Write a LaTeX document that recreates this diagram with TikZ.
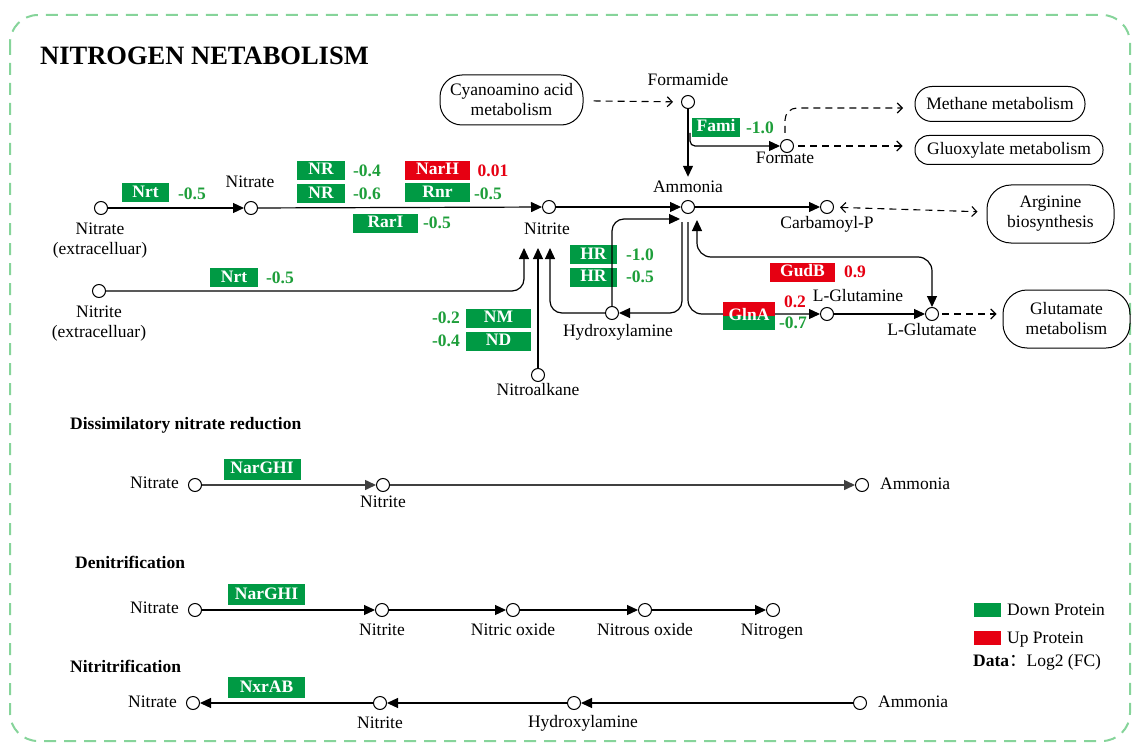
\documentclass[tikz,border=0pt]{standalone}
\usepackage{fontspec}
\setmainfont{Liberation Serif}
\newfontfamily\cjkfont{Noto Sans CJK SC}
\usetikzlibrary{arrows.meta}
\definecolor{dgreen}{HTML}{009A44}
\definecolor{dred}{HTML}{E60012}
\definecolor{tgreen}{HTML}{1E9E3A}
\definecolor{bgreen}{HTML}{86D49A}
\begin{document}
\begin{tikzpicture}[x=1pt,y=-1pt,
  every node/.style={font=\fontsize{17.5}{20}\selectfont, inner sep=0pt},
  met/.style={circle, draw, fill=white, minimum size=13pt, line width=1pt},
  lab/.style={text height=12pt, text depth=4pt},
  mlab/.style={align=center},
  sect/.style={anchor=west, text height=12pt, text depth=4pt, font=\fontsize{17.5}{20}\bfseries\selectfont},
  gbox/.style={fill=dgreen, text=white, font=\fontsize{17.5}{20}\bfseries\selectfont, minimum height=19pt, minimum width=48pt, text height=12pt, text depth=3pt},
  rbox/.style={gbox, fill=dred},
  gval/.style={text=tgreen, font=\fontsize{17.5}{20}\bfseries\selectfont, text height=12pt, text depth=3pt},
  rval/.style={gval, text=dred},
  mapbox/.style={draw, line width=1pt, align=center},
  arr/.style={line width=1.2pt, -{Triangle[length=11pt,width=10pt]}},
  arrb/.style={line width=1.2pt, {Triangle[length=11pt,width=10pt]}-{Triangle[length=11pt,width=10pt]}},
  darr/.style={line width=1.1pt, dash pattern=on 7pt off 5pt, -{Straight Barb[length=5pt,width=10pt]}},
  darrb/.style={line width=1.1pt, dash pattern=on 7pt off 5pt, {Straight Barb[length=5pt,width=10pt]}-{Straight Barb[length=5pt,width=10pt]}}
]
\useasboundingbox (0,0) rectangle (1137,746);
\draw[bgreen, line width=2pt, dash pattern=on 12pt off 8pt, rounded corners=28pt] (10,15) rectangle (1130,741);

\node[anchor=west, font=\fontsize{26.5}{30}\bfseries\selectfont] (title) at (40,55.5) {NITROGEN NETABOLISM};

% ---------- main map: metabolites ----------
\node[met] (natext) at (101,208) {};
\node[met] (nat) at (251,208) {};
\node[met] (nit) at (549,207) {};
\node[met] (amm) at (688,207) {};
\node[met] (carbp) at (827,207) {};
\node[met] (formamide) at (688,102) {};
\node[met] (formate) at (787,146) {};
\node[met] (nitext) at (99,291) {};
\node[met] (nitroalk) at (538,375) {};
\node[met] (hyd) at (612,313) {};
\node[met] (gln) at (827,314) {};
\node[met] (glu) at (932,314) {};

\node[mlab] (natextlab) at (100,241) {Nitrate\\(extracelluar)};
\node[lab] (natlab) at (250,184) {Nitrate};
\node[lab] (nitlab) at (547,230) {Nitrite};
\node[lab] (ammlab) at (688,189) {Ammonia};
\node[lab] (carbplab) at (827,225) {Carbamoyl-P};
\node[lab] (formamidelab) at (688,82) {Formamide};
\node[lab] (formatelab) at (785,160) {Formate};
\node[mlab] (nitextlab) at (99,324) {Nitrite\\(extracelluar)};
\node[lab] (nitroalklab) at (538,391) {Nitroalkane};
\node[lab] (hydlab) at (618,332) {Hydroxylamine};
\node[lab] (glnlab) at (858,297) {L-Glutamine};
\node[lab] (glulab) at (932,331) {L-Glutamate};

% map boxes
\node[mapbox, rounded corners=22pt, minimum width=143pt, minimum height=50pt] (cyano) at (511.5,100) {Cyanoamino acid\\metabolism};
\node[mapbox, rounded corners=17pt, minimum width=170pt, minimum height=35pt] (methane) at (1000,104) {Methane metabolism};
\node[mapbox, rounded corners=14pt, minimum width=188pt, minimum height=29pt] (gluox) at (1009,150) {Gluoxylate metabolism};
\node[mapbox, rounded corners=24pt, minimum width=127pt, minimum height=58pt] (arg) at (1050.5,214) {Arginine\\biosynthesis};
\node[mapbox, rounded corners=24pt, minimum width=127pt, minimum height=58pt] (glumet) at (1066.5,319) {Glutamate\\metabolism};

% enzyme boxes
\node[gbox, minimum width=47pt] (nrt1) at (145.5,193) {Nrt};
\node[gval] (v1) at (192,195) {-0.5};
\node[gbox] (nr1) at (321,170.5) {NR};
\node[gval] (v2) at (367,172) {-0.4};
\node[gbox] (nr2) at (321,193.5) {NR};
\node[gval] (v3) at (367,195) {-0.6};
\node[rbox, minimum width=65pt] (narh) at (437.5,170.5) {NarH};
\node[rval] (v4) at (493,172) {0.01};
\node[gbox, minimum width=65pt] (rnr) at (437.5,193) {Rnr};
\node[gval] (v5) at (488,195) {-0.5};
\node[gbox, minimum width=65pt] (rari) at (385.5,223) {RarI};
\node[gval] (v6) at (437,224) {-0.5};
\node[gbox] (nrt2) at (234,277.5) {Nrt};
\node[gval] (v7) at (280,279) {-0.5};
\node[gbox, minimum width=47pt] (hr1) at (593.5,254.5) {HR};
\node[gval] (v8) at (640,256) {-1.0};
\node[gbox, minimum width=47pt] (hr2) at (593.5,277) {HR};
\node[gval] (v9) at (640,278) {-0.5};
\node[gbox, minimum width=65pt] (nm) at (498.5,318) {NM};
\node[gval] (v10) at (446,319) {-0.2};
\node[gbox, minimum width=65pt] (nd) at (498.5,341) {ND};
\node[gval] (v11) at (446,342) {-0.4};
\node[gbox] (fami) at (716,127.5) {Fami};
\node[gval] (v12) at (760,129) {-1.0};
\node[rbox, minimum width=65pt] (gudb) at (802.5,272) {GudB};
\node[rval] (v13) at (855,273) {0.9};
\node[rval] (v14) at (795,303) {0.2};
\node[gval] (v15) at (793,324) {-0.7};

% coordinates for free ends
\coordinate (nin1) at (524,248);
\coordinate (nin2) at (538,248);
\coordinate (nin3) at (550,248);
\coordinate (ain1) at (680,219);
\coordinate (aout1) at (682,222);
\coordinate (aout2) at (688,222);
\coordinate (ain2) at (697,220);
\coordinate (gcorner) at (932,257);
\coordinate (fbr) at (690,133);
\coordinate (fup) at (785,133);
\coordinate (mtip) at (903,108);

% main connectors
\draw[arr] (natext) -- (nat);
\draw[arr] (nat) -- (nit);
\draw[arr] (nit) -- (amm);
\draw[arr] (amm) -- (carbp);
\draw[darrb, shorten <=6pt, shorten >=9pt] (carbp) -- (arg);
\draw[darr, shorten <=10pt, shorten >=8pt] (cyano) -- (formamide);
\draw[arr, shorten >=4pt] (formamide) -- (ammlab.north);
\draw[arr, rounded corners=5pt] (fbr) |- (formate);
\draw[darr, shorten <=4pt, shorten >=12pt] (formate) -- (formate -| gluox.west);
\draw[darr, rounded corners=12pt] (fup) |- (mtip);
\draw[arr, rounded corners=12pt] (nitext) -| (nin1);
\draw[arr] (nitroalk) -- (nin2);
\draw[arr, rounded corners=12pt] (hyd) -| (nin3);
\draw[arr, rounded corners=12pt] (hyd) |- (ain1);
\draw[arr, rounded corners=12pt] (aout1) |- (hyd);
\draw[arr, rounded corners=14pt] (aout2) |- (gln);
\draw[arrb, rounded corners=14pt] (ain2) |- (gcorner) -- (glu);
\draw[arr] (gln) -- (glu);
\draw[darr, shorten <=3pt, shorten >=6pt] (glu) -- (glu -| glumet.west);

% GlnA box on top of its line
\node[gbox, minimum width=52pt, minimum height=28pt,
  path picture={\fill[dred] (path picture bounding box.north west) rectangle (path picture bounding box.east);}] (glna) at (749,316) {GlnA};

% ---------- Dissimilatory nitrate reduction ----------
\node[sect] (t1) at (70,425) {Dissimilatory nitrate reduction};
\node[met] (d1) at (195,485) {};
\node[met] (d2) at (383,485) {};
\node[met] (d3) at (862,485) {};
\node[lab, anchor=east] (d1lab) at (179,484) {Nitrate};
\node[lab] (d2lab) at (383,503) {Nitrite};
\node[lab, anchor=west] (d3lab) at (880,485) {Ammonia};
\node[gbox, minimum width=77pt, minimum height=21pt] (narghi1) at (262,469) {NarGHI};
\draw[arr, draw=black!75, line width=1.5pt] (d1) -- (d2);
\draw[arr, draw=black!75, line width=1.5pt] (d2) -- (d3);

% ---------- Denitrification ----------
\node[sect] (t2) at (75,564) {Denitrification};
\node[met] (e1) at (195,610) {};
\node[met] (e2) at (382,610) {};
\node[met] (e3) at (513,610) {};
\node[met] (e4) at (645,610) {};
\node[met] (e5) at (773,610) {};
\node[lab, anchor=east] (e1lab) at (179,609) {Nitrate};
\node[lab] (e2lab) at (382,631) {Nitrite};
\node[lab] (e3lab) at (513,631) {Nitric oxide};
\node[lab] (e4lab) at (645,631) {Nitrous oxide};
\node[lab] (e5lab) at (772,631) {Nitrogen};
\node[gbox, minimum width=77pt, minimum height=21pt] (narghi2) at (266.5,594.5) {NarGHI};
\draw[arr] (e1) -- (e2);
\draw[arr] (e2) -- (e3);
\draw[arr] (e3) -- (e4);
\draw[arr] (e4) -- (e5);

% ---------- Nitritrification ----------
\node[sect] (t3) at (70,668) {Nitritrification};
\node[met] (f1) at (193,703) {};
\node[met] (f2) at (380,703) {};
\node[met] (f3) at (574,703) {};
\node[met] (f4) at (860,703) {};
\node[lab, anchor=east] (f1lab) at (177,703) {Nitrate};
\node[lab] (f2lab) at (380,724) {Nitrite};
\node[lab] (f3lab) at (583,723) {Hydroxylamine};
\node[lab, anchor=west] (f4lab) at (878,703) {Ammonia};
\node[gbox, minimum width=77pt, minimum height=21pt] (nxrab) at (266.5,687.5) {NxrAB};
\draw[arr] (f2) -- (f1);
\draw[arr] (f3) -- (f2);
\draw[arr] (f4) -- (f3);

% ---------- Legend ----------
\node[fill=dgreen, minimum width=27pt, minimum height=14pt] (lgg) at (987,610) {};
\node[lab, anchor=west] (lggt) at (1007,611) {Down Protein};
\node[fill=dred, minimum width=27pt, minimum height=14pt] (lgr) at (987,638) {};
\node[lab, anchor=west] (lgrt) at (1007,639) {Up Protein};
\node[lab, anchor=west] (lgd) at (973,662) {\textbf{Data}{\cjkfont ：}Log2 (FC)};
\end{tikzpicture}
\end{document}
